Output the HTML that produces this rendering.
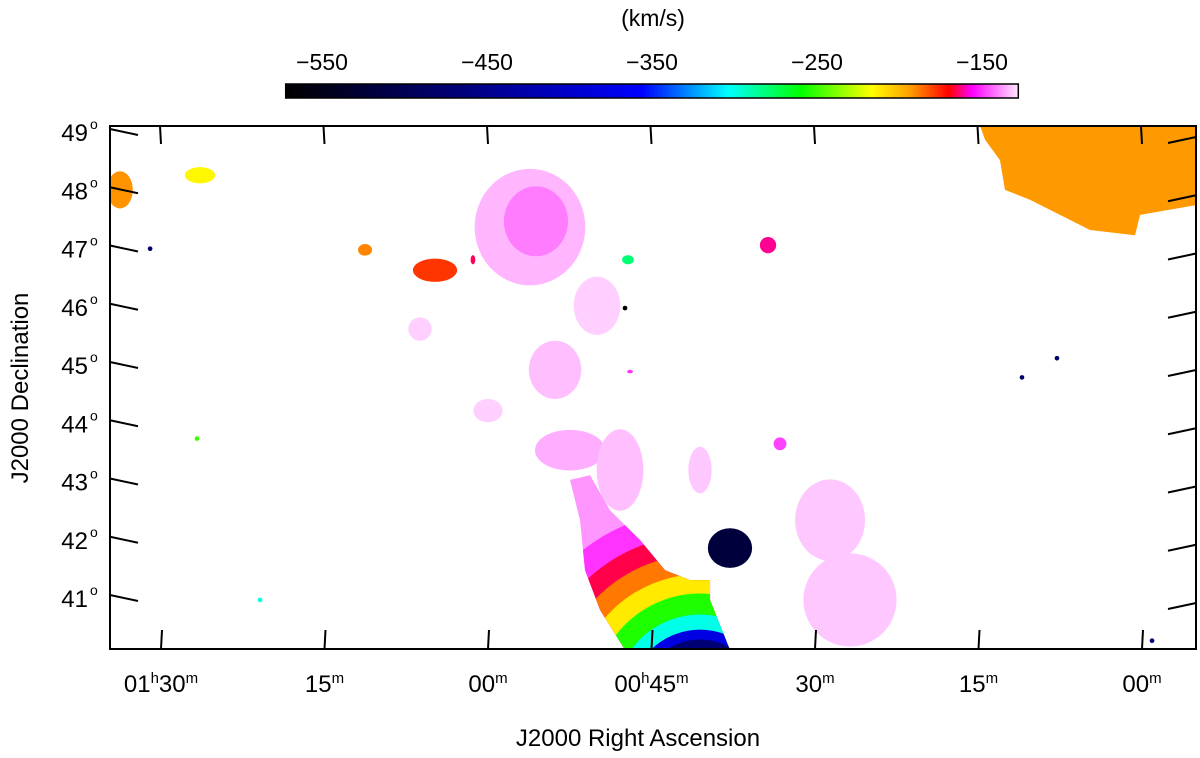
<!DOCTYPE html>
<html><head><meta charset="utf-8"><style>
html,body{margin:0;padding:0;background:#fff;width:1200px;height:758px;overflow:hidden;}
svg{display:block;font-family:"Liberation Sans",sans-serif;}
</style></head><body>
<svg id="c" width="1200" height="758" viewBox="0 0 1200 758">
<defs>
<clipPath id="plotclip"><rect x="110" y="126" width="1086" height="523"/></clipPath>
<linearGradient id="cbgrad" x1="0" x2="1" y1="0" y2="0"></linearGradient>
</defs>
<g id="cb"></g>
<g id="plot" clip-path="url(#plotclip)"></g>
<g id="axes"></g>
</svg>
<script>
// colormap velocity stops (km/s)
const cmapVel = [-572, -461, -356, -304, -260, -217, -194, -170, -156, -128];
const cmapCol = ['#000000','#000080','#0000ff','#00ffff','#00ff00','#ffff00','#ffa000','#ff0000','#ff00ff','#ffe8ff'];
const cbTicks = [-550, -450, -350, -250, -150];
const decTicks = [49, 48, 47, 46, 45, 44, 43, 42, 41];
const raTicks = [90, 75, 60, 45, 30, 15, 0];
const raLabels = ['01h30m', '15m', '00m', '00h45m', '30m', '15m', '00m'];
// diffuse emission blobs: RA (min of time past 00h), Dec (deg), radii (deg of dec), velocity
const blobRA  = [56.15, 55.6, 53.85, 52.48, 47.89, 40.55, 28.62, 26.79, 66.24, 60.0, 50.0];
const blobDec = [47.35, 47.45, 44.90, 43.52, 43.18, 43.18, 42.32, 40.95, 45.6, 44.2, 46.0];
const blobRx  = [0.95, 0.55, 0.45, 0.6, 0.4, 0.2, 0.6, 0.8, 0.2, 0.25, 0.4];
const blobRy  = [1.0, 0.6, 0.5, 0.35, 0.7, 0.4, 0.7, 0.8, 0.2, 0.2, 0.5];
const blobVel = [-134, -141, -133, -135, -133, -132, -132, -132, -131, -131, -131];
// compact clouds
const cloudRA  = [64.86, 71.28, 93.76, 86.42, 34.31, 33.21, 47.16, 37.80, 61.38, 91.0, 47.43, 46.97, 11.01, 7.80, -0.92, 86.70, 80.92];
const cloudDec = [46.61, 46.96, 47.99, 48.24, 47.04, 43.63, 46.79, 41.84, 46.79, 46.98, 45.96, 44.87, 44.77, 45.10, 40.25, 43.72, 40.95];
const cloudRx  = [0.38, 0.12, 0.22, 0.26, 0.14, 0.11, 0.1, 0.38, 0.04, 0.04, 0.04, 0.05, 0.04, 0.04, 0.04, 0.04, 0.04];
const cloudRy  = [0.2, 0.1, 0.32, 0.14, 0.14, 0.11, 0.08, 0.34, 0.08, 0.04, 0.04, 0.03, 0.04, 0.04, 0.04, 0.04, 0.04];
const cloudVel = [-178, -190, -192, -215, -162, -148, -280, -520, -165, -480, -570, -150, -480, -480, -470, -250, -300];
// M31 disk outline (RA, Dec) and velocity rings about the receding tip
const diskRA  = [52.48, 50.64, 48.81, 46.06, 43.76, 41.47, 39.63, 39.63, 37.80, 47.43, 49.72, 51.10, 51.56];
const diskDec = [43.01, 43.09, 42.49, 41.98, 41.46, 41.29, 41.29, 40.95, 40.09, 40.09, 40.78, 41.46, 42.32];
const ringCenterRA = 40.55, ringCenterDec = 39.24;
const ringDist = [4.46, 3.26, 2.83, 2.49, 2.15, 1.82, 1.46, 1.2, 1.03, 0.77];
const ringVel  = [-138, -150, -166, -188, -212, -255, -300, -380, -470, -545];
// northern orange cloud outline
const northRA  = [14.86, -5.05, -5.05, 0.18, 0.64, 4.77, 7.52, 10.28, 12.57, 13.03, 14.40];
const northDec = [49.09, 49.09, 47.73, 47.56, 47.21, 47.30, 47.56, 47.82, 47.99, 48.50, 48.85];
const northVel = -193;

const X = ra => 161 + (90 - ra) * 10.9;
const Y = dec => 597 - (dec - 41) * 58.25;
const PXD = 58.25;
const CBX = v => 322 + (v + 550) * 1.65;
const NS = 'http://www.w3.org/2000/svg';
function hex(c){return [1,3,5].map(i=>parseInt(c.substr(i,2),16));}
function vcol(v){
  if (v <= cmapVel[0]) return cmapCol[0];
  for (let i=1;i<cmapVel.length;i++){
    if (v <= cmapVel[i]){
      const t=(v-cmapVel[i-1])/(cmapVel[i]-cmapVel[i-1]);
      const a=hex(cmapCol[i-1]), b=hex(cmapCol[i]);
      return 'rgb('+a.map((x,k)=>Math.round(x+(b[k]-x)*t)).join(',')+')';
    }
  }
  return cmapCol[cmapCol.length-1];
}
function mk(tag, attrs, parent){const e=document.createElementNS(NS,tag);for(const k in attrs)e.setAttribute(k,attrs[k]);parent.appendChild(e);return e;}

// colorbar
const cb=document.getElementById('cb');
const grad=document.getElementById('cbgrad');
const x0=CBX(cmapVel[0]), x1=CBX(cmapVel[cmapVel.length-1]);
cmapVel.forEach((v,i)=>{mk('stop',{offset:((CBX(v)-x0)/(x1-x0)),'stop-color':cmapCol[i]},grad);});
const bar=mk('rect',{x:x0,y:84,width:x1-x0,height:14,fill:'url(#cbgrad)',stroke:'#000','stroke-width':1.5},cb);


cbTicks.forEach(v=>{
  const t=mk('text',{x:CBX(v),y:70,'font-size':23,'text-anchor':'middle',fill:'#000'},cb);
  t.textContent='\u2212'+Math.abs(v);
  
  
});
const cbt=mk('text',{x:653,y:26,'font-size':23,'text-anchor':'middle',fill:'#000'},cb);
cbt.textContent='(km/s)';



// plot contents
const plot=document.getElementById('plot');
blobRA.forEach((ra,i)=>{
  const e=mk('ellipse',{cx:X(ra),cy:Y(blobDec[i]),rx:blobRx[i]*PXD,ry:blobRy[i]*PXD,fill:vcol(blobVel[i])},plot);
  
  
});
// north cloud
const np=mk('polygon',{points:northRA.map((r,i)=>X(r)+','+Y(northDec[i])).join(' '),fill:vcol(northVel)},plot);


// disk
const dclip=mk('clipPath',{id:'diskclip'},document.querySelector('defs'));
mk('polygon',{points:diskRA.map((r,i)=>X(r)+','+Y(diskDec[i])).join(' ')},dclip);
const dg=mk('g',{'clip-path':'url(#diskclip)'},plot);


ringDist.forEach((d,i)=>{
  const c=mk('circle',{cx:X(ringCenterRA),cy:Y(ringCenterDec),r:d*PXD,fill:vcol(ringVel[i])},dg);
  
  
});
cloudRA.forEach((ra,i)=>{
  const e=mk('ellipse',{cx:X(ra),cy:Y(cloudDec[i]),rx:cloudRx[i]*PXD,ry:cloudRy[i]*PXD,fill:vcol(cloudVel[i])},plot);
  
  
});

// axes
const ax=document.getElementById('axes');
const fr=mk('rect',{x:110,y:126,width:1086,height:523,fill:'none',stroke:'#000','stroke-width':2},ax);


decTicks.forEach(d=>{
  const y=Y(d);
  mk('line',{x1:110,y1:y-2,x2:138,y2:y+4,stroke:'#000','stroke-width':2},ax);
  mk('line',{x1:1196,y1:y+6,x2:1168,y2:y+12,stroke:'#000','stroke-width':2},ax);
  const t=mk('text',{x:88,y:y+10,'font-size':24,'text-anchor':'end',fill:'#000'},ax);
  t.textContent=d;
  
  
  const s=mk('text',{x:90,y:y-2,'font-size':14,fill:'#000'},ax);
  s.textContent='o';
});
raTicks.forEach((r,i)=>{
  const x=X(r);
  mk('line',{x1:x,y1:649,x2:x+1,y2:630,stroke:'#000','stroke-width':2},ax);
  mk('line',{x1:x-1,y1:126,x2:x,y2:144,stroke:'#000','stroke-width':2},ax);
  const lab=raLabels[i];
  const t=mk('text',{x:x,y:692,'font-size':24,'text-anchor':'middle',fill:'#000'},ax);
  
  
  const m=lab.match(/^(\d\d)h(\d\d)m$/);
  if(m){
    t.innerHTML=m[1]+'<tspan dy="-9" font-size="15">h</tspan><tspan dy="9">'+m[2]+'</tspan><tspan dy="-9" font-size="15">m</tspan>';
  } else {
    t.innerHTML=lab.slice(0,2)+'<tspan dy="-9" font-size="15">m</tspan>';
  }
});
const xt=mk('text',{x:638,y:746,'font-size':24,'text-anchor':'middle',fill:'#000'},ax);
xt.textContent='J2000 Right Ascension';


const yt=mk('text',{x:0,y:0,'font-size':24,'text-anchor':'middle',fill:'#000',transform:'translate(28,388) rotate(-90)'},ax);
yt.textContent='J2000 Declination';


</script>
</body></html>
